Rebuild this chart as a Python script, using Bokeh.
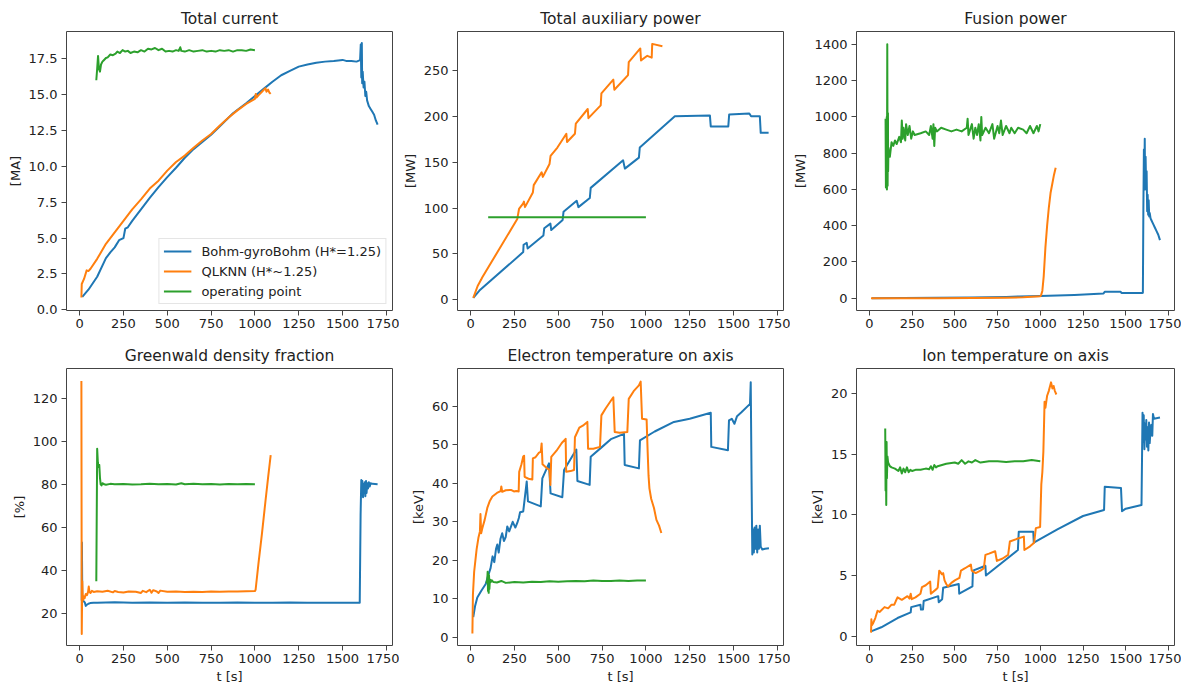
from bokeh.plotting import figure
from bokeh.models import Range1d, FixedTicker, Legend, LegendItem, NumeralTickFormatter, GlobalInlineStyleSheet
from bokeh.layouts import gridplot
from bokeh.embed import file_html
from bokeh.resources import INLINE

# ---------------- data ----------------
series_names = ["Bohm-gyroBohm (H*=1.25)", "QLKNN (H*~1.25)", "operating point"]
x_ticks = [0, 250, 500, 750, 1000, 1250, 1500, 1750]

# Total current [MA]
cur_bohm_t = [15, 50, 100, 150, 175, 200, 225, 250, 260, 275, 300, 350, 400, 450, 500, 550, 600, 650, 700, 750, 800, 875, 950, 1000, 1050, 1100, 1150, 1200, 1250, 1300, 1350, 1400, 1450, 1500, 1520, 1550, 1580, 1600, 1604, 1607, 1610, 1612, 1615, 1620, 1625, 1630, 1635, 1640, 1650, 1660, 1670, 1680, 1690, 1700]
cur_bohm_v = [0.9, 1.4, 2.3, 3.6, 4.0, 4.35, 4.85, 5.0, 5.65, 5.75, 6.2, 7.0, 7.8, 8.55, 9.25, 9.9, 10.6, 11.2, 11.7, 12.2, 12.8, 13.7, 14.4, 14.9, 15.4, 15.9, 16.35, 16.65, 16.95, 17.1, 17.22, 17.3, 17.35, 17.42, 17.35, 17.35, 17.3, 17.4, 18.5, 16.2, 18.6, 15.8, 16.6, 15.5, 15.9, 14.9, 15.2, 14.6, 14.2, 14.0, 13.8, 13.6, 13.2, 12.9]
cur_qlknn_t = [10, 12, 25, 40, 50, 62, 100, 150, 200, 250, 300, 350, 400, 450, 500, 550, 600, 650, 700, 750, 800, 850, 900, 950, 1000, 1005, 1010, 1020, 1040, 1060, 1066, 1075, 1082, 1090]
cur_qlknn_v = [0.85, 1.8, 2.15, 2.75, 2.7, 2.86, 3.55, 4.6, 5.4, 6.2, 7.0, 7.7, 8.45, 9.0, 9.7, 10.3, 10.75, 11.3, 11.8, 12.25, 12.85, 13.4, 13.9, 14.35, 14.7, 15.05, 14.8, 14.95, 15.2, 15.45, 15.2, 15.35, 15.15, 15.05]
cur_op_t = [95, 100, 105, 110, 116, 122, 130, 138, 150, 160, 175, 190, 205, 215, 230, 245, 260, 275, 290, 310, 330, 350, 370, 390, 410, 430, 450, 470, 490, 510, 530, 550, 565, 574, 580, 600, 625, 650, 675, 700, 725, 750, 775, 800, 825, 850, 875, 900, 925, 950, 975, 1000]
cur_op_v = [16.0, 16.8, 17.7, 16.8, 16.6, 17.1, 17.3, 17.4, 17.55, 17.6, 17.8, 17.75, 17.85, 18.0, 17.9, 18.1, 18.0, 18.05, 17.9, 18.0, 17.95, 18.1, 18.0, 18.2, 18.15, 18.25, 18.1, 18.2, 18.0, 18.05, 18.0, 18.1, 18.05, 18.3, 18.05, 18.0, 18.1, 18.0, 18.05, 18.1, 18.0, 18.05, 18.0, 18.1, 18.05, 18.1, 18.0, 18.1, 18.1, 18.05, 18.15, 18.1]

# Total auxiliary power [MW]
aux_bohm_t = [15, 50, 300, 302, 320, 325, 415, 420, 455, 460, 525, 530, 605, 615, 680, 685, 870, 880, 960, 965, 1165, 1365, 1370, 1470, 1475, 1590, 1600, 1650, 1655, 1700]
aux_bohm_v = [2, 10, 52, 60, 62, 56, 70, 78, 83, 76, 87, 96, 108, 101, 111, 122, 152, 143, 155, 166, 200, 201, 189, 189, 202, 203, 200, 200, 182, 182]
aux_qlknn_t = [15, 40, 60, 65, 266, 276, 300, 304, 310, 355, 360, 405, 412, 450, 456, 495, 546, 550, 595, 600, 668, 672, 742, 746, 814, 820, 898, 902, 968, 972, 1008, 1033, 1036, 1094]
aux_qlknn_v = [2, 15, 22, 24, 88, 99, 105, 107, 101, 117, 125, 139, 134, 148, 157, 166, 181, 172, 181, 192, 208, 198, 212, 225, 240, 229, 245, 259, 274, 261, 266, 264, 279, 276.5]
aux_op_t = [100, 1000]
aux_op_v = [90, 90]

# Fusion power [MW]
fus_bohm_t = [15, 200, 400, 600, 800, 875, 1000, 1200, 1370, 1378, 1470, 1475, 1595, 1600, 1603, 1606, 1609, 1611, 1613, 1616, 1619, 1622, 1625, 1628, 1631, 1634, 1637, 1640, 1645, 1650, 1660, 1670, 1680, 1690, 1700]
fus_bohm_v = [0, 1, 2, 4, 7, 9, 12, 18, 26, 36, 36, 28, 28, 30, 500, 820, 700, 880, 600, 780, 620, 700, 480, 570, 460, 540, 450, 470, 440, 430, 410, 390, 370, 350, 320]
fus_qlknn_t = [10, 200, 400, 600, 800, 900, 1000, 1005, 1012, 1020, 1030, 1040, 1050, 1060, 1070, 1080, 1090]
fus_qlknn_v = [0, 0, 0, 1, 3, 5, 10, 18, 40, 120, 280, 400, 500, 580, 630, 680, 720]
fus_op_t = [95, 97, 99, 100, 102, 103, 105, 107, 109, 110, 112, 115, 120, 130, 140, 150, 160, 175, 185, 190, 195, 200, 210, 215, 225, 235, 245, 255, 265, 300, 330, 350, 360, 370, 375, 380, 385, 395, 420, 450, 480, 510, 540, 570, 575, 580, 600, 610, 620, 630, 640, 650, 655, 660, 680, 700, 720, 730, 750, 760, 770, 780, 800, 820, 830, 850, 870, 900, 920, 940, 960, 980, 990, 1000]
fus_op_v = [990, 610, 980, 610, 1000, 600, 1400, 620, 1020, 700, 830, 790, 780, 860, 840, 870, 850, 890, 860, 980, 880, 940, 870, 960, 900, 950, 880, 920, 900, 910, 920, 900, 950, 880, 960, 840, 940, 920, 940, 930, 920, 930, 920, 940, 990, 900, 960, 880, 940, 900, 960, 870, 1000, 900, 940, 910, 960, 880, 950, 910, 980, 900, 950, 910, 940, 910, 940, 930, 910, 950, 910, 950, 920, 960]

# Greenwald density fraction [%]
gw_bohm_t = [12, 13, 15, 20, 30, 35, 40, 50, 60, 80, 100, 200, 300, 400, 500, 600, 700, 800, 900, 1000, 1100, 1200, 1300, 1400, 1500, 1598, 1603, 1607, 1610, 1613, 1617, 1620, 1624, 1627, 1630, 1634, 1637, 1641, 1645, 1650, 1655, 1660, 1670, 1700]
gw_bohm_v = [26, 53, 27, 26, 25, 23.5, 24, 24.5, 24.8, 25, 25, 25.2, 25, 25.1, 25, 25.1, 25, 25, 25.1, 25, 25, 25.1, 25, 25, 25, 25, 66, 82, 75, 81.5, 74, 80, 77, 81, 74.5, 81.5, 76, 80.5, 78, 81, 79, 80.5, 80.2, 80]
gw_qlknn_t = [10, 12, 15, 18, 22, 28, 35, 42, 48, 52, 56, 62, 70, 80, 100, 130, 160, 190, 200, 220, 250, 280, 320, 350, 360, 380, 400, 410, 420, 440, 450, 460, 500, 550, 600, 650, 700, 750, 800, 850, 900, 950, 1000, 1004, 1020, 1040, 1060, 1075, 1090]
gw_qlknn_v = [128, 10.5, 35, 26, 28, 27, 29, 28.5, 30, 32.5, 30, 29.5, 30.5, 30, 30.3, 30.1, 30.5, 29.8, 30.4, 30, 29.7, 30.2, 30.1, 29.5, 30.5, 29.9, 31, 29.6, 30.8, 30.2, 29.5, 30.6, 30.1, 30.2, 30, 30.1, 30, 30.2, 30.1, 30.2, 30.2, 30.3, 30.4, 31, 43, 57, 72, 83, 93.5]
gw_op_t = [95, 100, 104, 108, 112, 116, 120, 125, 130, 140, 150, 175, 200, 250, 300, 350, 400, 450, 500, 550, 580, 600, 650, 700, 750, 800, 850, 900, 950, 1000]
gw_op_v = [35, 96.5, 90, 88, 89, 83, 80, 79.5, 80.5, 80, 79.8, 80.2, 80, 80.1, 79.9, 80, 80.2, 80, 80.1, 79.9, 80.5, 80, 80.3, 80, 80.1, 79.9, 80.1, 80, 80.1, 80]

# Electron temperature on axis [keV]
te_bohm_t = [15, 25, 38, 60, 86, 100, 114, 125, 135, 145, 152, 160, 170, 180, 190, 200, 209, 220, 240, 255, 266, 275, 282, 300, 320, 327, 400, 409, 447, 456, 523, 533, 603, 609, 679, 685, 750, 800, 875, 879, 960, 966, 1050, 1160, 1250, 1370, 1373, 1468, 1474, 1490, 1505, 1520, 1545, 1594, 1598, 1603, 1607, 1612, 1616, 1620, 1625, 1630, 1635, 1640, 1645, 1650, 1655, 1664, 1680, 1702]
te_bohm_v = [5.2, 8, 10.3, 12, 13.8, 16, 18, 21, 19.5, 23, 24.1, 22, 25.5, 27, 25, 26, 28.8, 27.5, 30, 28.5, 29.7, 31, 32.5, 32.7, 40.5, 35.3, 34, 41.3, 45.2, 37.4, 36.4, 43.5, 48.8, 40.6, 39.6, 46.9, 49.5, 51.5, 52.9, 44.8, 43.9, 51.2, 53.5, 56, 56.8, 58.4, 49.5, 48.6, 56.4, 56.8, 55.5, 57.5, 58.5, 60.7, 66.3, 40, 21.5, 28, 22, 28.5, 23, 29, 22, 28, 23, 29, 23.5, 22.8, 23, 23.1]
te_qlknn_t = [10, 13, 20, 34, 45, 53, 56, 60, 67, 80, 95, 110, 124, 150, 171, 175, 180, 200, 230, 247, 260, 274, 277, 290, 300, 305, 308, 330, 352, 355, 370, 390, 400, 405, 410, 415, 437, 450, 455, 460, 490, 520, 542, 545, 570, 590, 595, 610, 620, 640, 666, 670, 675, 700, 738, 746, 770, 800, 814, 822, 850, 894, 902, 930, 960, 970, 978, 1004, 1010, 1015, 1020, 1030, 1046, 1060, 1075, 1088]
te_qlknn_v = [0.9, 11, 17, 22.8, 26, 27.5, 32, 27, 28.4, 30.5, 33.6, 35.5, 36.6, 37.5, 38.0, 39.2, 37.8, 38.2, 38.3, 37.9, 38.0, 37.9, 43, 45, 47, 47.2, 41.7, 41.2, 41.0, 46.5, 46.8, 48.0, 48.2, 50.4, 45, 44.8, 43.9, 43.5, 39.6, 46.9, 48.5, 50.5, 51.6, 43, 43.2, 43.5, 52, 53.5, 54.5, 55.0, 56, 49, 49.0, 49.0, 49.5, 57.7, 59.5, 61.5, 62.4, 53.4, 53.2, 53.4, 62, 64, 65.5, 66.5, 56.8, 56.6, 48.2, 42, 38.7, 36, 33.6, 30.5, 29, 27.1]
te_op_t = [90, 95, 97, 99, 101, 103, 105, 107, 110, 115, 120, 130, 150, 175, 200, 250, 300, 350, 400, 450, 500, 550, 600, 650, 700, 750, 800, 850, 900, 950, 1000]
te_op_v = [14.0, 15.0, 17.0, 12.0, 16.5, 11.5, 16.0, 12.5, 15.0, 14.3, 14.8, 14.3, 14.2, 14.6, 14.1, 14.3, 14.2, 14.4, 14.3, 14.5, 14.4, 14.5, 14.6, 14.5, 14.7, 14.6, 14.6, 14.7, 14.6, 14.7, 14.7]

# Ion temperature on axis [keV]
ti_bohm_t = [10, 70, 165, 242, 245, 299, 302, 314, 318, 403, 406, 426, 432, 523, 526, 603, 606, 679, 682, 869, 874, 959, 962, 1100, 1250, 1373, 1377, 1472, 1478, 1500, 1592, 1598, 1602, 1605, 1609, 1612, 1616, 1620, 1624, 1628, 1632, 1636, 1640, 1645, 1649, 1655, 1659, 1665, 1700]
ti_bohm_v = [0.4, 0.74, 1.5, 1.96, 2.4, 2.6, 2.2, 2.2, 2.9, 3.3, 2.8, 3.05, 4.0, 4.3, 3.5, 4.1, 5.4, 5.8, 5.0, 7.1, 8.6, 8.6, 7.7, 8.8, 9.9, 10.4, 12.3, 12.2, 10.3, 10.5, 10.8, 18.4, 16, 18.2, 15.4, 17.5, 16.2, 17.8, 15.6, 17.2, 15.3, 17.6, 15.9, 17.0, 17.4, 16.5, 18.3, 17.9, 18.0]
ti_qlknn_t = [10, 12, 15, 23, 35, 48, 60, 89, 110, 130, 146, 155, 165, 190, 223, 235, 242, 248, 270, 299, 308, 330, 356, 360, 394, 400, 409, 415, 425, 432, 440, 450, 460, 480, 500, 527, 536, 560, 594, 599, 622, 650, 670, 679, 700, 736, 746, 780, 812, 822, 860, 904, 907, 940, 964, 974, 999, 1003, 1006, 1012, 1018, 1022, 1025, 1030, 1040, 1050, 1063, 1071, 1078, 1085, 1094]
ti_qlknn_v = [0.3, 1.4, 0.9, 1.1, 1.5, 2.1, 2.0, 2.4, 2.3, 2.6, 2.6, 2.9, 3.2, 3.0, 3.3, 3.1, 3.5, 3.05, 3.2, 3.5, 4.05, 4.2, 4.5, 3.5, 3.9, 4.0, 5.4, 5.3, 5.1, 5.2, 4.6, 4.3, 4.1, 4.4, 4.6, 4.8, 5.4, 5.6, 5.9, 5.4, 5.2, 5.4, 5.6, 6.7, 6.8, 7.0, 6.2, 6.4, 6.7, 7.8, 8.0, 8.2, 7.1, 7.4, 7.7, 8.9, 9.0, 11.0, 12.5, 13.5, 15.2, 17.5, 19.3, 18.8, 19.8, 20.2, 20.9, 20.4, 20.6, 20.2, 19.9]
ti_op_t = [93, 95, 97, 99, 101, 103, 106, 110, 120, 130, 150, 170, 180, 190, 200, 210, 220, 230, 240, 250, 270, 300, 330, 350, 360, 370, 380, 390, 400, 450, 500, 520, 540, 560, 580, 600, 620, 650, 700, 750, 800, 850, 900, 950, 1000]
ti_op_v = [17.1, 12.0, 15.8, 10.8, 16.0, 13.0, 14.8, 14.3, 14.0, 13.9, 13.8, 13.6, 13.9, 13.4, 13.8, 13.5, 13.9, 13.5, 13.7, 13.6, 13.7, 13.7, 13.8, 13.75, 14.0, 13.7, 14.1, 13.9, 14.0, 14.2, 14.3, 14.2, 14.5, 14.2, 14.4, 14.3, 14.5, 14.3, 14.4, 14.4, 14.35, 14.4, 14.4, 14.5, 14.4]

# tick values for each panel's y axis
cur_ticks = [0, 2.5, 5, 7.5, 10, 12.5, 15, 17.5]
aux_ticks = [0, 50, 100, 150, 200, 250]
fus_ticks = [0, 200, 400, 600, 800, 1000, 1200, 1400]
gw_ticks = [20, 40, 60, 80, 100, 120]
te_ticks = [0, 10, 20, 30, 40, 50, 60]
ti_ticks = [0, 5, 10, 15, 20]

# ---------------- styling ----------------
COLORS = ["#1f77b4", "#ff7f0e", "#2ca02c"]
FONT = "DejaVu Sans"
TXT = "#222222"
EDGE = "#444444"
FRAME_W, FRAME_H = 326, 279


def make_panel(title, ylabel, yr, yticks, series, col, row, yfmt=None, legend=False):
    left = 66 if col == 0 else 58
    right = 7
    top = 31 if row == 0 else 25
    bottom = 45 if row == 1 else 31
    p = figure(width=left + FRAME_W + right, height=top + FRAME_H + bottom,
               x_range=Range1d(-75, 1785), y_range=Range1d(*yr),
               output_backend="svg", toolbar_location=None,
               min_border_left=left, min_border_right=right,
               min_border_top=top, min_border_bottom=bottom,
               background_fill_color="white", border_fill_color="white")
    p.title.text = title
    p.title.align = "center"
    p.title.text_font = FONT
    p.title.text_font_size = "15.5px"
    p.title.text_font_style = "normal"
    p.title.text_color = TXT
    p.title.standoff = 7
    p.grid.visible = False
    p.outline_line_color = EDGE
    p.outline_line_width = 1
    for ax in (p.xaxis[0], p.yaxis[0]):
        ax.axis_line_color = None
        ax.major_tick_line_color = EDGE
        ax.major_tick_out = 5
        ax.major_tick_in = 0
        ax.minor_tick_line_color = None
        ax.major_label_text_font = FONT
        ax.major_label_text_font_size = "13px"
        ax.major_label_text_color = TXT
        ax.axis_label_text_font = FONT
        ax.axis_label_text_font_size = "13px"
        ax.axis_label_text_font_style = "normal"
        ax.axis_label_text_color = TXT
        ax.axis_label_standoff = 3
    p.xaxis.major_label_standoff = 3
    p.yaxis.major_label_standoff = 4
    p.xaxis.ticker = FixedTicker(ticks=x_ticks, minor_ticks=[])
    p.yaxis.ticker = FixedTicker(ticks=yticks, minor_ticks=[])
    if yfmt:
        p.yaxis.formatter = NumeralTickFormatter(format=yfmt)
    p.yaxis.axis_label = ylabel
    if row == 1:
        p.xaxis.axis_label = "t [s]"
    rends = []
    for (t, v), c in zip(series, COLORS):
        r = p.line(t, v, line_color=c, line_width=2, line_join="round")
        rends.append(r)
    if legend:
        items = [LegendItem(label=n, renderers=[r]) for n, r in zip(series_names, rends)]
        lg = Legend(items=items, location="bottom_right", margin=6, padding=4,
                    spacing=4, glyph_width=28, glyph_height=16, label_height=16,
                    label_standoff=10, label_text_font=FONT, label_text_font_size="13px",
                    label_text_color=TXT, border_line_color="#cccccc",
                    background_fill_alpha=0.8)
        p.add_layout(lg)
    return p


p1 = make_panel("Total current", "[MA]", (-0.05, 19.4), cur_ticks,
                [(cur_bohm_t, cur_bohm_v), (cur_qlknn_t, cur_qlknn_v), (cur_op_t, cur_op_v)],
                0, 0, yfmt="0.0", legend=True)
p2 = make_panel("Total auxiliary power", "[MW]", (-11.7, 292.5), aux_ticks,
                [(aux_bohm_t, aux_bohm_v), (aux_qlknn_t, aux_qlknn_v), (aux_op_t, aux_op_v)], 1, 0)
p3 = make_panel("Fusion power", "[MW]", (-68, 1471), fus_ticks,
                [(fus_bohm_t, fus_bohm_v), (fus_qlknn_t, fus_qlknn_v), (fus_op_t, fus_op_v)], 2, 0)
p4 = make_panel("Greenwald density fraction", "[%]", (5.1, 133.8), gw_ticks,
                [(gw_bohm_t, gw_bohm_v), (gw_qlknn_t, gw_qlknn_v), (gw_op_t, gw_op_v)], 0, 1)
p5 = make_panel("Electron temperature on axis", "[keV]", (-2.2, 69.9), te_ticks,
                [(te_bohm_t, te_bohm_v), (te_qlknn_t, te_qlknn_v), (te_op_t, te_op_v)], 1, 1)
p6 = make_panel("Ion temperature on axis", "[keV]", (-0.76, 22.04), ti_ticks,
                [(ti_bohm_t, ti_bohm_v), (ti_qlknn_t, ti_qlknn_v), (ti_op_t, ti_op_v)], 2, 1)

grid = gridplot([[p1, p2, p3], [p4, p5, p6]], toolbar_location=None)
grid.stylesheets = [GlobalInlineStyleSheet(
    css="html, body { margin: 0 !important; padding: 0 !important; overflow: hidden !important; }")]

open("out.html", "w").write(file_html(grid, INLINE))
